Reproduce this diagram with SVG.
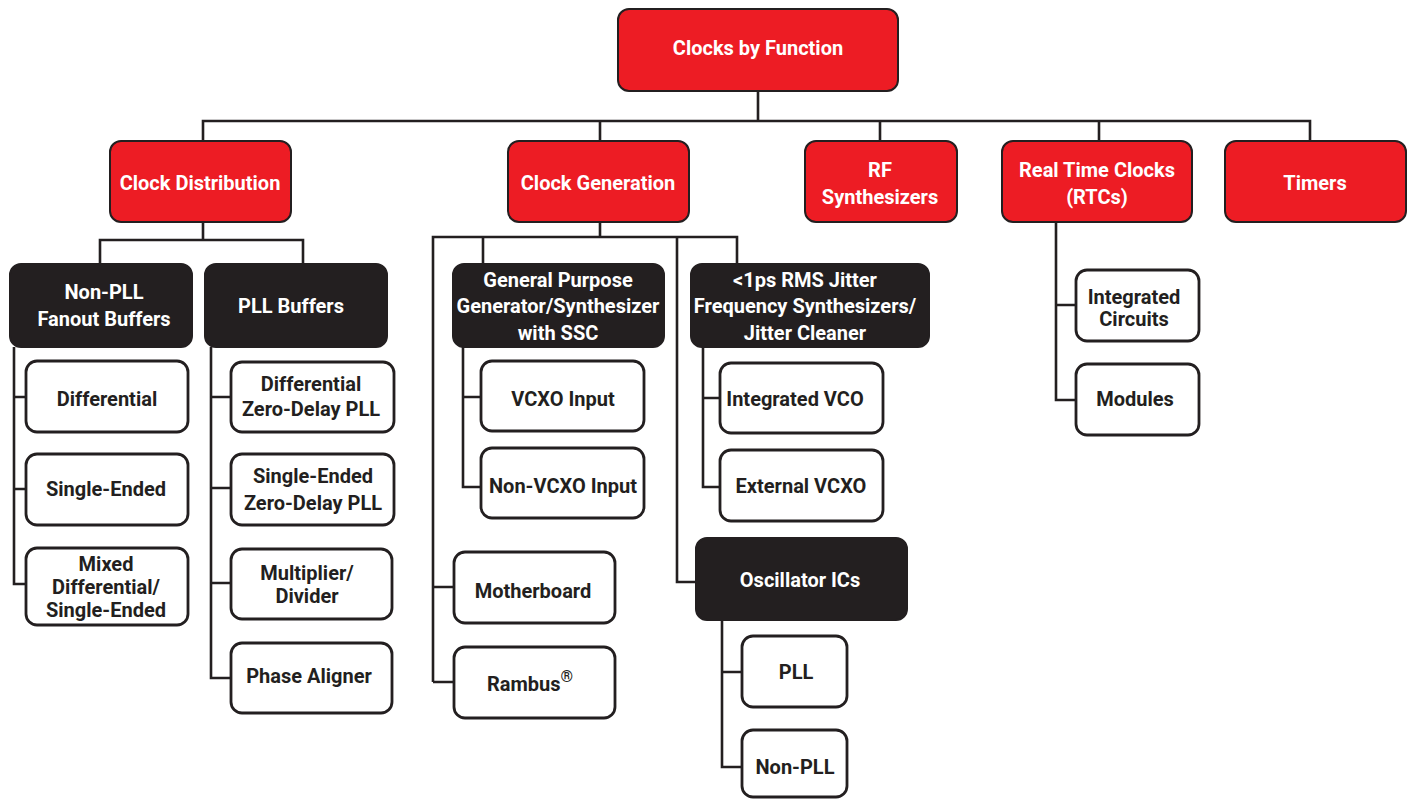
<svg xmlns="http://www.w3.org/2000/svg" width="1408" height="799" viewBox="0 0 1408 799">
  <style>
    text { font-family: "Liberation Sans Narrow", "Roboto", "Liberation Sans", sans-serif; font-weight: bold; font-size: 20px; text-anchor: middle; }
    .red rect { fill: #ed1c24; stroke: #231f20; stroke-width: 2; }
    .dark rect { fill: #231f20; stroke: #231f20; stroke-width: 2; }
    .leaf rect { fill: #ffffff; stroke: #231f20; stroke-width: 2.8; }
    .red text, .dark text { fill: #ffffff; }
    .leaf text { fill: #231f20; }
    #connectors path { fill: none; stroke: #231f20; stroke-width: 2.6; }
  </style>

  <rect width="1408" height="799" fill="#ffffff"/>

  <g id="connectors">
    <!-- root to level 2 -->
    <path d="M758 91 V121 M203 141 V121 H1310 V141 M600 121 V141 M880 121 V141 M1099 121 V141"/>
    <!-- clock distribution -->
    <path d="M203 222 V240 M100 264 V240 H303 V264"/>
    <path d="M14 347 V584 H26 M14 397 H26 M14 489 H26"/>
    <path d="M211 347 V678 H231 M211 397 H231 M211 488 H231 M211 583 H231"/>
    <!-- clock generation -->
    <path d="M600 222 V237 M433 682 V237 H737 V264 M483 237 V264 M677 237 V582 H696"/>
    <path d="M433 587 H454 M433 682 H454"/>
    <path d="M463 347 V487 H481 M463 397 H481"/>
    <path d="M703 347 V487 H720 M703 398 H720"/>
    <path d="M722 620 V767 H742 M722 672 H742"/>
    <!-- real time clocks -->
    <path d="M1056 222 V400 H1076 M1056 305 H1076"/>
  </g>

  <g id="root" class="red">
    <rect x="618" y="9" width="280" height="82" rx="11"/>
    <text x="758" y="55">Clocks by Function</text>
  </g>

  <g id="clock-distribution" class="red">
    <rect x="110" y="141" width="181" height="81" rx="11"/>
    <text x="200" y="190">Clock Distribution</text>
  </g>
  <g id="clock-generation" class="red">
    <rect x="508" y="141" width="181" height="81" rx="11"/>
    <text x="598" y="190">Clock Generation</text>
  </g>
  <g id="rf-synthesizers" class="red">
    <rect x="805" y="141" width="152" height="81" rx="11"/>
    <text x="880" y="177">RF</text>
    <text x="880" y="204">Synthesizers</text>
  </g>
  <g id="real-time-clocks" class="red">
    <rect x="1002" y="141" width="190" height="81" rx="11"/>
    <text x="1097" y="177">Real Time Clocks</text>
    <text x="1097" y="204">(RTCs)</text>
  </g>
  <g id="timers" class="red">
    <rect x="1225" y="141" width="181" height="81" rx="11"/>
    <text x="1315" y="190">Timers</text>
  </g>

  <g id="non-pll-fanout" class="dark">
    <rect x="10" y="264" width="182" height="83" rx="11"/>
    <text x="104" y="299">Non-PLL</text>
    <text x="104" y="326">Fanout Buffers</text>
  </g>
  <g id="pll-buffers" class="dark">
    <rect x="205" y="264" width="182" height="83" rx="11"/>
    <text x="291" y="313">PLL Buffers</text>
  </g>

  <g id="differential" class="leaf">
    <rect x="26" y="361" width="162" height="71" rx="11"/>
    <text x="107" y="406">Differential</text>
  </g>
  <g id="single-ended" class="leaf">
    <rect x="26" y="454" width="162" height="71" rx="11"/>
    <text x="106" y="496">Single-Ended</text>
  </g>
  <g id="mixed" class="leaf">
    <rect x="26" y="548" width="162" height="77" rx="11"/>
    <text x="106" y="571">Mixed</text>
    <text x="106" y="594">Differential/</text>
    <text x="106" y="617">Single-Ended</text>
  </g>

  <g id="diff-zero-delay" class="leaf">
    <rect x="231" y="362" width="163" height="70" rx="11"/>
    <text x="311" y="391">Differential</text>
    <text x="311" y="416">Zero-Delay PLL</text>
  </g>
  <g id="se-zero-delay" class="leaf">
    <rect x="231" y="454" width="163" height="71" rx="11"/>
    <text x="313" y="483">Single-Ended</text>
    <text x="313" y="510">Zero-Delay PLL</text>
  </g>
  <g id="multiplier-divider" class="leaf">
    <rect x="231" y="549" width="161" height="70" rx="11"/>
    <text x="307" y="580">Multiplier/</text>
    <text x="307" y="603">Divider</text>
  </g>
  <g id="phase-aligner" class="leaf">
    <rect x="231" y="643" width="161" height="70" rx="11"/>
    <text x="309" y="683">Phase Aligner</text>
  </g>

  <g id="general-purpose" class="dark">
    <rect x="453" y="264" width="211" height="83" rx="11"/>
    <text x="558" y="287">General Purpose</text>
    <text x="558" y="313">Generator/Synthesizer</text>
    <text x="558" y="340">with SSC</text>
  </g>
  <g id="jitter-cleaner" class="dark">
    <rect x="691" y="264" width="238" height="83" rx="11"/>
    <text x="805" y="287">&lt;1ps RMS Jitter</text>
    <text x="805" y="313">Frequency Synthesizers/</text>
    <text x="805" y="340">Jitter Cleaner</text>
  </g>

  <g id="vcxo-input" class="leaf">
    <rect x="481" y="361" width="163" height="70" rx="11"/>
    <text x="563" y="406">VCXO Input</text>
  </g>
  <g id="non-vcxo-input" class="leaf">
    <rect x="481" y="448" width="163" height="70" rx="11"/>
    <text x="563" y="493">Non-VCXO Input</text>
  </g>
  <g id="motherboard" class="leaf">
    <rect x="454" y="552" width="161" height="71" rx="11"/>
    <text x="533" y="598">Motherboard</text>
  </g>
  <g id="rambus" class="leaf">
    <rect x="454" y="647" width="161" height="71" rx="11"/>
    <text x="530" y="691">Rambus<tspan font-size="16" dy="-9">®</tspan></text>
  </g>

  <g id="integrated-vco" class="leaf">
    <rect x="720" y="363" width="163" height="70" rx="11"/>
    <text x="795" y="406">Integrated VCO</text>
  </g>
  <g id="external-vcxo" class="leaf">
    <rect x="720" y="450" width="163" height="71" rx="11"/>
    <text x="801" y="493">External VCXO</text>
  </g>
  <g id="oscillator-ics" class="dark">
    <rect x="696" y="538" width="211" height="82" rx="11"/>
    <text x="800" y="587">Oscillator ICs</text>
  </g>
  <g id="pll" class="leaf">
    <rect x="742" y="636" width="105" height="71" rx="11"/>
    <text x="796" y="679">PLL</text>
  </g>
  <g id="non-pll" class="leaf">
    <rect x="742" y="730" width="105" height="67" rx="11"/>
    <text x="795" y="774">Non-PLL</text>
  </g>

  <g id="integrated-circuits" class="leaf">
    <rect x="1076" y="270" width="123" height="71" rx="11"/>
    <text x="1134" y="304">Integrated</text>
    <text x="1134" y="326">Circuits</text>
  </g>
  <g id="modules" class="leaf">
    <rect x="1076" y="364" width="123" height="71" rx="11"/>
    <text x="1135" y="406">Modules</text>
  </g>
</svg>
